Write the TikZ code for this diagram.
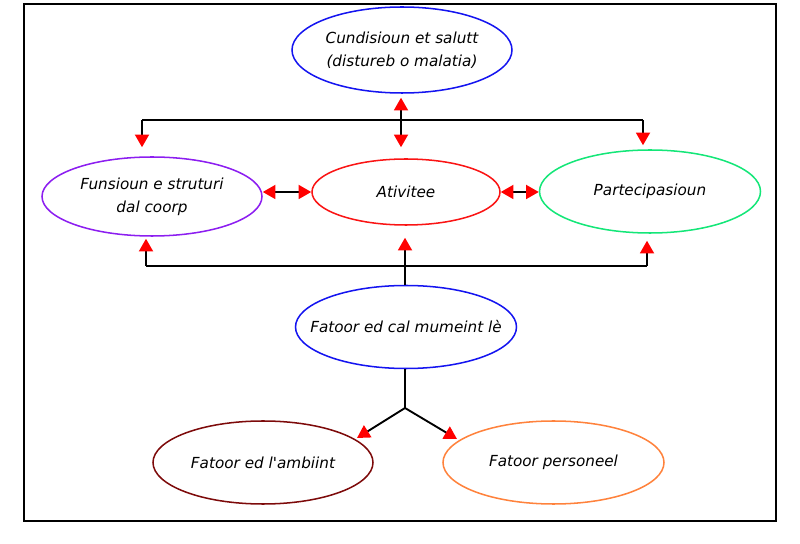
\documentclass[tikz,border=0pt]{standalone}
\usepackage{fontspec}
\setmainfont{DejaVu Sans}
\usetikzlibrary{shapes.geometric,arrows.meta,calc}
\definecolor{cblue}{RGB}{20,20,240}
\definecolor{cviolet}{RGB}{140,30,240}
\definecolor{cred}{RGB}{250,20,20}
\definecolor{cgreen}{RGB}{20,230,120}
\definecolor{cmaroon}{RGB}{125,10,10}
\definecolor{corange}{RGB}{255,130,60}
\tikzset{
  oval/.style={ellipse, draw, line width=1.3pt, inner sep=0pt},
  txt/.style={align=center, inner sep=0pt, font=\itshape\fontsize{13}{19.5}\selectfont},
  line/.style={line width=1.6pt, black},
  tip/.style={-{Triangle[length=0.38cm,width=0.42cm,color=red]}, line width=1.6pt},
  dbl/.style={{Triangle[length=0.38cm,width=0.42cm,color=red]}-{Triangle[length=0.38cm,width=0.42cm,color=red]}, line width=1.6pt},
}
\begin{document}
\begin{tikzpicture}[x=0.03cm,y=-0.03cm]
\useasboundingbox (0,0) rectangle (800,544);
\draw[line width=1.8pt] (24,4) rectangle (776,521);
\node[oval, draw=cblue, minimum width=6.6cm, minimum height=2.58cm, label={[txt]center:Cundisioun et salutt\\(distureb o malatia)}] (cund) at (402,50) {};
\node[oval, draw=cviolet, minimum width=6.6cm, minimum height=2.37cm, label={[txt]center:Funsioun e struturi\\dal coorp}] (fun) at (152,196.5) {};
\node[oval, draw=cred, minimum width=5.64cm, minimum height=1.98cm, label={[txt]center:Ativitee}] (ativ) at (406,192) {};
\node[oval, draw=cgreen, minimum width=6.63cm, minimum height=2.49cm, label={[txt]center:Partecipasioun}] (part) at (650,191.5) {};
\node[oval, draw=cblue, minimum width=6.63cm, minimum height=2.49cm, label={[txt]center:Fatoor ed cal mumeint lè}] (fat) at (406,327) {};
\node[oval, draw=cmaroon, minimum width=6.6cm, minimum height=2.49cm, label={[txt]center:Fatoor ed l\textquotesingle ambiint}] (amb) at (263,462.5) {};
\node[oval, draw=corange, minimum width=6.63cm, minimum height=2.49cm, label={[txt]center:Fatoor personeel}] (pers) at (553.5,462.5) {};
% top connectors
\coordinate (jtl) at (142,120);
\coordinate (jtr) at (643,120);
\draw[line] (jtl) -- (jtr);
\draw[tip, shorten >=0.27cm] (jtl) -- (jtl |- fun.north);
\draw[tip, shorten >=0.12cm] (jtr) -- (jtr |- part.north);
\draw[dbl, shorten <=0.12cm, shorten >=0.33cm] ($(cund.south)+(-1,0)$) -- ($(cund.south |- ativ.north)+(-1,0)$);
% horizontal double arrows
\draw[dbl] (fun.east |- ativ.west) -- (ativ.west);
\draw[dbl] (ativ.east) -- (part.west |- ativ.east);
% bottom connectors
\coordinate (jbl) at (146,266);
\coordinate (jbr) at (647,266);
\draw[line] (jbl) -- (jbr);
\draw[tip, shorten >=0.06cm] (jbl) -- (jbl |- fun.south);
\draw[tip, shorten >=0.21cm] (jbr) -- (jbr |- part.south);
\draw[tip, shorten >=0.36cm] ($(fat.north)+(-1,0)$) -- ($(fat.north |- ativ.south)+(-1,0)$);
% lower split
\coordinate (jy) at (405,408);
\coordinate (ta) at (357,438);
\coordinate (tp) at (457,439);
\draw[line] ($(fat.south)+(-1,0)$) -- (jy);
\draw[tip] (jy) -- (ta);
\draw[tip] (jy) -- (tp);
\end{tikzpicture}
\end{document}
